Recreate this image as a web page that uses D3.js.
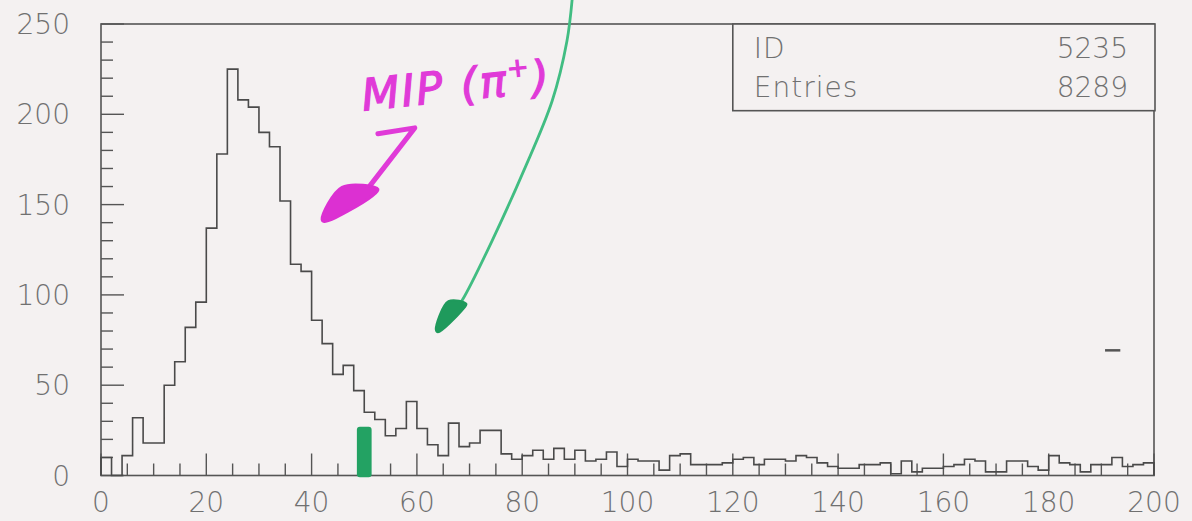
<!DOCTYPE html>
<html>
<head>
<meta charset="utf-8">
<script src="https://cdn.jsdelivr.net/npm/d3@7"></script>
<style>
  html, body { margin: 0; padding: 0; background: #f4f1f1; }
  svg { display: block; }
</style>
</head>
<body>
<svg id="chart" width="1192" height="521"></svg>
<script>
// ---- data ----
const binWidth = 2;
const binStarts = d3.range(0, 200, 2);
const counts = [
  10, 0, 11, 32, 18, 18, 50, 63, 82, 96,
  137, 178, 225, 208, 204, 190, 182, 152, 117, 113,
  86, 73, 56, 61, 47, 35, 31, 22, 26, 41,
  26, 17, 11, 29, 16, 18, 25, 25, 12, 9,
  11, 14, 9, 15, 9, 14, 8, 9, 13, 5,
  9, 8, 8, 3, 11, 12, 6, 6, 6, 7,
  9, 10, 6, 9, 9, 8, 11, 10, 7, 5,
  4, 4, 6, 6, 7, 1, 8, 2, 4, 4,
  5, 6, 9, 8, 2, 2, 8, 8, 5, 3,
  11, 7, 6, 2, 6, 6, 10, 5, 6, 7
];
const xTickLabels = [0, 20, 40, 60, 80, 100, 120, 140, 160, 180, 200];
const yTickLabels = [0, 50, 100, 150, 200, 250];
const statsLabels = ["ID", "Entries"];
const statsValues = ["5235", "8289"];

// hand-drawn annotations, in data units
const greenCurve = [[89.5, 264], [88.5, 240.6], [85.7, 207.5], [80.3, 168.8], [74.3, 130.1], [68.6, 97], [65.9, 86]];
const greenHead = [[66.0, 96.5], [69.4, 95.0], [68.6, 91.5], [64.0, 79.3], [63.6, 80.6]];
const greenBar = { x0: 48.6, x1: 51.4, y0: 27, y1: -1 };
const magentaStroke = [[52.6, 189.2], [59.6, 192.5], [51.1, 160.5]];
const magentaHead = [[45.8, 159.6], [52.6, 158.5], [51.6, 155.0], [42.4, 140.6], [42.0, 141.8]];
const magentaText = { x: 49.8, y: 202, label: "MIP (π", sup: "+", tail: ")" };
const dashMark = [[190.7, 69.3], [193.6, 69.3]];

// ---- scales ----
const svg = d3.select("#chart");
const W = 1192, H = 521;
const x = d3.scaleLinear().domain([0, 200]).range([101, 1154]);
const y = d3.scaleLinear().domain([0, 250]).range([475.5, 24]);

const axisColor = "#555";
const textColor = "#707070";
const fontFam = "'DejaVu Sans', 'Liberation Sans', sans-serif";

svg.append("rect").attr("width", W).attr("height", H).attr("fill", "#f4f1f1");

// frame
svg.append("rect")
  .attr("x", x(0)).attr("y", y(250))
  .attr("width", x(200) - x(0)).attr("height", y(0) - y(250))
  .attr("fill", "none").attr("stroke", axisColor).attr("stroke-width", 1.6);

// x ticks (inward)
const xMinor = d3.range(0, 201, 5);
svg.append("g").selectAll("line").data(xMinor).join("line")
  .attr("x1", d => x(d)).attr("x2", d => x(d))
  .attr("y1", y(0)).attr("y2", d => y(0) - (d % 20 === 0 ? 22 : 12))
  .attr("stroke", axisColor).attr("stroke-width", 1.4);

// y ticks (inward)
const yMinor = d3.range(0, 251, 10);
svg.append("g").selectAll("line").data(yMinor).join("line")
  .attr("x1", x(0)).attr("x2", d => x(0) + (d % 50 === 0 ? 23 : 12))
  .attr("y1", d => y(d)).attr("y2", d => y(d))
  .attr("stroke", axisColor).attr("stroke-width", 1.4);

// tick labels
svg.append("g").selectAll("text").data(xTickLabels).join("text")
  .attr("x", d => x(d)).attr("y", 512)
  .attr("text-anchor", "middle")
  .attr("font-family", fontFam).attr("font-size", 28).attr("font-weight", 300)
  .attr("fill", textColor)
  .text(d => d);

svg.append("g").selectAll("text").data(yTickLabels).join("text")
  .attr("x", x(0) - 31).attr("y", d => y(d) + 10)
  .attr("text-anchor", "end")
  .attr("font-family", fontFam).attr("font-size", 28).attr("font-weight", 300)
  .attr("fill", textColor)
  .text(d => d);

// histogram
const pts = [[0, 0]];
binStarts.forEach((b, i) => pts.push([b, counts[i]]));
pts.push([200, counts[counts.length - 1]]);
pts.push([200, 0]);
const line = d3.line().x(d => x(d[0])).y(d => y(d[1])).curve(d3.curveStepAfter);
svg.append("path").attr("d", line(pts))
  .attr("fill", "none").attr("stroke", "#4a4a4a").attr("stroke-width", 1.6);

// stats box
const box = svg.append("g");
const bx0 = x(120), bx1 = x(200) + 1, by0 = y(250), by1 = y(202);
box.append("rect").attr("x", bx0).attr("y", by0)
  .attr("width", bx1 - bx0).attr("height", by1 - by0)
  .attr("fill", "#f4f1f1").attr("stroke", axisColor).attr("stroke-width", 1.6);
statsLabels.forEach((lab, i) => {
  box.append("text").attr("x", bx0 + 21).attr("y", by0 + 34 + i * 39)
    .attr("font-family", fontFam).attr("font-size", 28).attr("font-weight", 300)
    .attr("letter-spacing", 1).attr("fill", textColor).text(lab);
  box.append("text").attr("x", bx1 - 27).attr("y", by0 + 34 + i * 39)
    .attr("text-anchor", "end")
    .attr("font-family", fontFam).attr("font-size", 28).attr("font-weight", 300)
    .attr("fill", textColor).text(statsValues[i]);
});

// small dash mark
svg.append("path").attr("d", d3.line().x(d => x(d[0])).y(d => y(d[1]))(dashMark))
  .attr("stroke", "#555").attr("stroke-width", 2.5);

// green annotations
svg.append("path")
  .attr("d", d3.line().x(d => x(d[0])).y(d => y(d[1])).curve(d3.curveCatmullRom)(greenCurve))
  .attr("fill", "none").attr("stroke", "#41bd82").attr("stroke-width", 2.8)
  .attr("stroke-linecap", "round");
svg.append("path")
  .attr("d", d3.line().x(d => x(d[0])).y(d => y(d[1])).curve(d3.curveCatmullRomClosed)(greenHead))
  .attr("fill", "#1f9a5c").attr("stroke", "#1f9a5c").attr("stroke-width", 2);
svg.append("rect")
  .attr("x", x(greenBar.x0)).attr("y", y(greenBar.y0))
  .attr("width", x(greenBar.x1) - x(greenBar.x0)).attr("height", y(greenBar.y1) - y(greenBar.y0))
  .attr("rx", 3).attr("fill", "#23a263");

// magenta annotations
svg.append("path")
  .attr("d", d3.line().x(d => x(d[0])).y(d => y(d[1])).curve(d3.curveLinear)(magentaStroke))
  .attr("fill", "none").attr("stroke", "#e03ad8").attr("stroke-width", 5)
  .attr("stroke-linecap", "round").attr("stroke-linejoin", "round");
svg.append("path")
  .attr("d", d3.line().x(d => x(d[0])).y(d => y(d[1])).curve(d3.curveCatmullRomClosed)(magentaHead))
  .attr("fill", "#dc30d2").attr("stroke", "#dc30d2").attr("stroke-width", 3);
const mt = svg.append("text")
  .attr("x", x(magentaText.x)).attr("y", y(magentaText.y))
  .attr("transform", `rotate(-6, ${x(magentaText.x)}, ${y(magentaText.y)})`)
  .attr("font-family", fontFam).attr("font-size", 44).attr("font-style", "italic")
  .attr("font-weight", "normal").attr("letter-spacing", 2).attr("fill", "#e03ad8")
  .attr("stroke", "#e03ad8").attr("stroke-width", 1.2);
mt.append("tspan").text(magentaText.label);
mt.append("tspan").attr("font-size", 26).attr("dy", -18).text(magentaText.sup);
mt.append("tspan").attr("dy", 18).text(magentaText.tail);
</script>
</body>
</html>
